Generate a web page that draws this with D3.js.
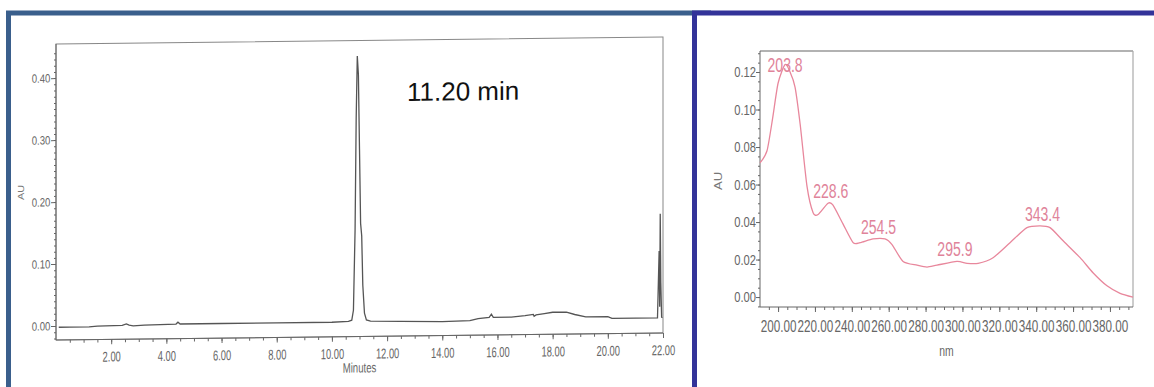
<!DOCTYPE html>
<html>
<head>
<meta charset="utf-8">
<script src="https://cdn.jsdelivr.net/npm/d3@7"></script>
<style>
  body { margin: 0; background: #fff; }
  svg { display: block; }
  .tk text { font-family: "Liberation Sans", Arial, sans-serif; fill: #666; }
  .tk line, .tk path { stroke: #666; }
</style>
</head>
<body>
<svg width="1154" height="387"></svg>
<script>
// chromatogram (minutes vs AU)
var chromTime = [0.1, 0.5, 1.2, 1.5, 2.4, 2.55, 2.65, 2.8, 3.2, 4.35, 4.42, 4.5, 6, 8, 10, 10.6, 10.72,
  10.78, 10.84, 10.88, 10.92, 10.96, 11.0, 11.04, 11.08, 11.12, 11.18, 11.25, 11.4, 12.5, 14, 15.0, 15.3,
  15.7, 15.78, 15.85, 16.5, 17.0, 17.3, 17.33, 17.4, 17.7, 18.0, 18.5, 18.8, 19.2, 20.0, 20.15, 21.0, 21.8,
  21.86, 21.88, 21.9, 21.92, 21.95, 21.98];
var chromAU = [-0.002, -0.002, -0.002, -0.001, 0.000, 0.002, 0.000, -0.001, 0.000, 0.001, 0.004, 0.001,
  0.001, 0.001, 0.001, 0.002, 0.004, 0.02, 0.15, 0.33, 0.43, 0.40, 0.28, 0.16, 0.14, 0.06, 0.015, 0.004,
  0.002, 0.001, 0.000, 0.001, 0.004, 0.006, 0.011, 0.006, 0.006, 0.008, 0.010, 0.007, 0.009, 0.011, 0.013,
  0.013, 0.009, 0.005, 0.005, 0.002, 0.002, 0.002, 0.11, 0.02, 0.17, 0.06, 0.003, 0.002];
var chromXTicks = [2, 4, 6, 8, 10, 12, 14, 16, 18, 20, 22];
var chromYTicks = [0, 0.1, 0.2, 0.3, 0.4];
var retentionLabel = "11.20 min";

// UV spectrum (nm vs AU)
var specNm = [190.2, 194, 197, 200, 203.8, 206.5, 209.2, 212, 215.7, 219, 221.7, 227.1, 229.8, 235.2,
  240.7, 244.5, 251.5, 258, 261.8, 267.8, 275.4, 280.8, 286.2, 297, 302.5, 308.5, 316.6, 325.8, 335,
  342.1, 347.5, 354.6, 363.8, 370.8, 378.4, 385.5, 392.5];
var specAU = [0.0715, 0.078, 0.095, 0.114, 0.124, 0.120, 0.112, 0.092, 0.059, 0.045, 0.044, 0.050, 0.049,
  0.039, 0.029, 0.029, 0.031, 0.031, 0.028, 0.019, 0.017, 0.016, 0.017, 0.019, 0.018, 0.018, 0.021, 0.029,
  0.037, 0.038, 0.037, 0.030, 0.021, 0.013, 0.006, 0.002, 0.000];
var peakNm = [203.8, 228.6, 254.5, 295.9, 343.4];
var peakAU = [0.124, 0.050, 0.031, 0.019, 0.038];
var peakText = ["203.8", "228.6", "254.5", "295.9", "343.4"];
var specXTicks = [200, 220, 240, 260, 280, 300, 320, 340, 360, 380];
var specYTicks = [0, 0.02, 0.04, 0.06, 0.08, 0.10, 0.12];

var FONT = '"Liberation Sans", Arial, sans-serif';

var svg = d3.select('svg');
svg.append('rect').attr('width', 1154).attr('height', 387).attr('fill', '#fff');

// panel frames
svg.append('rect').attr('x', 8.5).attr('y', 13).attr('width', 700).attr('height', 420)
  .attr('fill', 'none').attr('stroke', '#3a5f8c').attr('stroke-width', 5);
svg.append('rect').attr('x', 694.5).attr('y', 13).attr('width', 500).attr('height', 420)
  .attr('fill', '#fff').attr('stroke', '#333399').attr('stroke-width', 5);

// squeezed text, like the scanned narrow font
function squeeze(sel, sx, sy) {
  sel.attr('transform', 'scale(' + sx + ',' + sy + ')');
}

// ---------- left: chromatogram ----------
var L = {left: 56, right: 663, top: 44, bottom: 340};
var x1 = d3.scaleLinear().domain([0, 22]).range([L.left, L.right]);
var y1 = d3.scaleLinear().domain([-0.0225, 0.455]).range([L.bottom, L.top]);

// the scan is slightly tilted
var g1 = svg.append('g').attr('transform',
  'translate(' + L.left + ',' + L.bottom + ')skewY(-0.66)translate(' + (-L.left) + ',' + (-L.bottom) + ')');

g1.append('rect').attr('x', L.left).attr('y', L.top)
  .attr('width', L.right - L.left).attr('height', L.bottom - L.top)
  .attr('fill', 'none').attr('stroke', '#888').attr('stroke-width', 1);

g1.append('g').attr('class', 'tk').attr('transform', 'translate(0,' + L.bottom + ')')
  .call(d3.axisBottom(x1).tickValues(d3.range(0.5, 22, 0.5)).tickSize(3).tickFormat(''))
  .call(function(a) { a.select('.domain').remove(); });
g1.append('g').attr('class', 'tk').attr('transform', 'translate(0,' + L.bottom + ')')
  .call(d3.axisBottom(x1).tickValues(chromXTicks).tickSize(5).tickPadding(5).tickFormat(d3.format('.2f')))
  .call(function(a) {
    a.select('.domain').attr('d', 'M' + L.left + ',0H' + L.right);
    a.selectAll('text').style('font-size', '12px').call(squeeze, 0.78, 1.2);
  });

g1.append('g').attr('class', 'tk').attr('transform', 'translate(' + L.left + ',0)')
  .call(d3.axisLeft(y1).tickValues(d3.range(-0.02, 0.45, 0.01)).tickSize(2).tickFormat(''))
  .call(function(a) { a.select('.domain').remove(); });
g1.append('g').attr('class', 'tk').attr('transform', 'translate(' + L.left + ',0)')
  .call(d3.axisLeft(y1).tickValues(chromYTicks).tickSize(5).tickPadding(2).tickFormat(d3.format('.2f')))
  .call(function(a) {
    a.select('.domain').attr('d', 'M0,' + L.bottom + 'V' + L.top);
    a.selectAll('text').style('font-size', '12px').call(squeeze, 0.8, 1);
  });

var chromData = chromTime.map(function(t, i) { return [t, chromAU[i]]; });
g1.append('path').datum(chromData)
  .attr('fill', 'none').attr('stroke', '#555').attr('stroke-width', 1.3)
  .attr('d', d3.line().x(function(d) { return x1(d[0]); }).y(function(d) { return y1(d[1]); }));

g1.append('text').attr('x', 407).attr('y', 105)
  .attr('font-family', FONT).attr('font-size', 26)
  .attr('fill', '#111').text(retentionLabel);

g1.append('text').attr('transform', 'translate(' + ((L.left + L.right) / 2) + ',376)scale(0.8,1.15)')
  .attr('text-anchor', 'middle').attr('font-family', FONT).attr('font-size', 12)
  .attr('fill', '#666').text('Minutes');
g1.append('text').attr('transform', 'translate(24,192)rotate(-90)scale(1,0.8)').attr('text-anchor', 'middle')
  .attr('font-family', FONT).attr('font-size', 11)
  .attr('fill', '#777').text('AU');

// ---------- right: UV spectrum ----------
var R = {left: 760, right: 1133, top: 51, bottom: 307};
var x2 = d3.scaleLinear().domain([190.2, 392.5]).range([R.left, R.right]);
var y2 = d3.scaleLinear().domain([-0.0053, 0.1312]).range([R.bottom, R.top]);
var g2 = svg.append('g');

g2.append('line').attr('x1', R.left).attr('x2', R.right).attr('y1', R.top).attr('y2', R.top)
  .attr('stroke', '#666').attr('stroke-width', 1.2);
g2.append('line').attr('x1', R.right).attr('x2', R.right).attr('y1', R.top).attr('y2', R.bottom)
  .attr('stroke', '#aaa').attr('stroke-width', 1.2);

g2.append('g').attr('class', 'tk').attr('transform', 'translate(0,' + R.bottom + ')')
  .call(d3.axisBottom(x2).tickValues(d3.range(195, 392, 5)).tickSize(3).tickFormat(''))
  .call(function(a) { a.select('.domain').remove(); });
g2.append('g').attr('class', 'tk').attr('transform', 'translate(0,' + R.bottom + ')')
  .call(d3.axisBottom(x2).tickValues(specXTicks).tickSize(5).tickPadding(6).tickFormat(d3.format('.2f')))
  .call(function(a) {
    a.select('.domain').attr('d', 'M' + R.left + ',0H' + R.right);
    a.selectAll('text').style('font-size', '15px').call(squeeze, 0.78, 1.15);
  });

g2.append('g').attr('class', 'tk').attr('transform', 'translate(' + R.left + ',0)')
  .call(d3.axisLeft(y2).tickValues(d3.range(-0.005, 0.131, 0.005)).tickSize(2).tickFormat(''))
  .call(function(a) { a.select('.domain').remove(); });
g2.append('g').attr('class', 'tk').attr('transform', 'translate(' + R.left + ',0)')
  .call(d3.axisLeft(y2).tickValues(specYTicks).tickSize(4).tickPadding(1).tickFormat(d3.format('.2f')))
  .call(function(a) {
    a.select('.domain').attr('d', 'M0,' + R.bottom + 'V' + R.top);
    a.selectAll('text').style('font-size', '14px').call(squeeze, 0.8, 1);
  });

var specData = specNm.map(function(n, i) { return [n, specAU[i]]; });
g2.append('path').datum(specData)
  .attr('fill', 'none').attr('stroke', '#e8879c').attr('stroke-width', 1.3)
  .attr('d', d3.line().curve(d3.curveCardinal.tension(0.3))
    .x(function(d) { return x2(d[0]); }).y(function(d) { return y2(d[1]); }));

g2.selectAll('text.peak').data(peakNm).enter().append('text').attr('class', 'peak')
  .attr('transform', function(d, i) {
    var ty = Math.max(R.top + 21, y2(peakAU[i]) - 5);
    return 'translate(' + x2(d) + ',' + ty + ')scale(0.78,1.15)';
  })
  .attr('text-anchor', 'middle')
  .attr('font-family', FONT).attr('font-size', 18)
  .attr('fill', '#e0839a')
  .text(function(d, i) { return peakText[i]; });

g2.append('text').attr('transform', 'translate(' + ((R.left + R.right) / 2) + ',356)scale(0.8,1.15)')
  .attr('text-anchor', 'middle').attr('font-family', FONT).attr('font-size', 13)
  .attr('fill', '#666').text('nm');
g2.append('text').attr('transform', 'translate(722,181)rotate(-90)scale(1,0.8)').attr('text-anchor', 'middle')
  .attr('font-family', FONT).attr('font-size', 13)
  .attr('fill', '#777').text('AU');
</script>
</body>
</html>
